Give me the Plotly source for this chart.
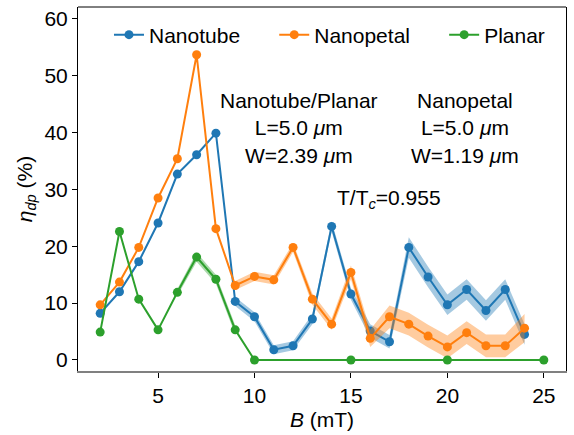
import plotly.graph_objects as go

# ---- data ----
x_tube = list(range(2, 25))
y_tube = [8.2, 12.0, 17.3, 24.1, 32.7, 36.1, 39.9, 10.3, 7.6, 1.8, 2.5, 7.2,
          23.5, 11.6, 5.1, 3.2, 19.8, 14.6, 9.7, 12.4, 8.7, 12.4, 4.5]
x_petal = list(range(2, 25))
y_petal = [9.7, 13.7, 19.8, 28.5, 35.4, 53.7, 23.1, 13.1, 14.7, 14.1, 19.8, 10.7,
           6.3, 15.4, 3.8, 7.6, 6.3, 4.2, 2.3, 4.8, 2.5, 2.5, 5.6]
x_planar = [2, 3, 4, 5, 6, 7, 8, 9, 10, 15, 20, 25]
y_planar = [4.9, 22.6, 10.7, 5.3, 11.9, 18.1, 14.2, 5.3, 0, 0, 0, 0]

# uncertainty bands (half widths)
band_x_tube = list(range(9, 25))
band_e_tube = [0.8, 0.8, 0.8, 0.8, 0.9, 0.9, 1.0, 1.2, 1.2, 1.8, 1.8, 1.8, 1.8, 1.8, 1.8, 1.8]
band_x_petal = list(range(9, 25))
band_e_petal = [0.8, 0.8, 0.8, 0.8, 1.0, 1.0, 1.2, 1.5, 2.0, 2.0, 2.0, 2.0, 2.0, 2.0, 2.0, 2.5]
band_x_planar = [6, 7, 8, 9]
band_e_planar = [0.6, 0.8, 0.8, 0.8]

names = ["Nanotube", "Nanopetal", "Planar"]
legend_pad = [5, 5, 0]  # trailing non-breaking spaces for legend spacing
colors = ["#1f77b4", "#ff7f0e", "#2ca02c"]
bands = ["rgba(31,119,180,0.4)", "rgba(255,127,14,0.4)", "rgba(44,160,44,0.4)"]

FONT = "Liberation Sans, Arial, Helvetica, sans-serif"
FS = 21

fig = go.Figure()

series = [
    (x_tube, y_tube, band_x_tube, band_e_tube),
    (x_petal, y_petal, band_x_petal, band_e_petal),
    (x_planar, y_planar, band_x_planar, band_e_planar),
]

for i, (xs, ys, bx, be) in enumerate(series):
    lookup = dict(zip(xs, ys))
    upper = [lookup[v] + e for v, e in zip(bx, be)]
    lower = [lookup[v] - e for v, e in zip(bx, be)]
    fig.add_trace(go.Scatter(x=bx + bx[::-1], y=upper + lower[::-1], mode="lines",
                             line=dict(width=0), fill="toself", fillcolor=bands[i],
                             hoverinfo="skip", showlegend=False))
    fig.add_trace(go.Scatter(x=xs, y=ys, mode="lines+markers",
                             name=names[i] + "\u00a0" * legend_pad[i],
                             line=dict(color=colors[i], width=2),
                             marker=dict(color=colors[i], size=9)))

fig.add_annotation(text="Nanotube/Planar<br>L=5.0 <i>μ</i>m<br>W=2.39 <i>μ</i>m",
                   xref="paper", yref="paper", x=0.453, y=0.668,
                   xanchor="center", yanchor="middle", showarrow=False,
                   font=dict(size=FS, color="black", family=FONT))
fig.add_annotation(text="Nanopetal<br>L=5.0 <i>μ</i>m<br>W=1.19 <i>μ</i>m",
                   xref="paper", yref="paper", x=0.794, y=0.668,
                   xanchor="center", yanchor="middle", showarrow=False,
                   font=dict(size=FS, color="black", family=FONT))
fig.add_annotation(text="T/T<sub><i>c</i></sub>=0.955",
                   xref="paper", yref="paper", x=0.637, y=0.4725,
                   xanchor="center", yanchor="middle", showarrow=False,
                   font=dict(size=FS, color="black", family=FONT))

# top spine
fig.add_shape(type="line", xref="paper", yref="paper", x0=0, x1=1, y0=1, y1=1,
              line=dict(color="black", width=1))

fig.update_layout(
    width=574, height=435,
    margin=dict(l=78, r=8, t=7, b=64),
    paper_bgcolor="white", plot_bgcolor="white",
    font=dict(family=FONT, size=FS, color="black"),
    showlegend=True,
    legend=dict(orientation="h", x=0.0635, y=0.923, xanchor="left", yanchor="middle",
                bgcolor="rgba(0,0,0,0)", font=dict(size=FS, family=FONT),
                itemwidth=30, tracegroupgap=0),
    xaxis=dict(range=[0.85, 26.15], tickvals=[5, 10, 15, 20, 25],
               ticks="outside", ticklen=5, tickcolor="black",
               showline=True, linecolor="#808080", linewidth=2, mirror=False,
               showgrid=False, zeroline=False,
               title=dict(text="<i>B</i> (mT)", standoff=6, font=dict(size=FS)),
               tickfont=dict(size=FS)),
    yaxis=dict(range=[-1.94, 62.1], tickvals=[0, 10, 20, 30, 40, 50, 60],
               ticks="outside", ticklen=5, tickcolor="black",
               showline=True, linecolor="black", linewidth=1, mirror=True,
               showgrid=False, zeroline=False,
               title=dict(text="<i>η</i><sub><i>dp</i></sub> (%)", standoff=6, font=dict(size=FS)),
               tickfont=dict(size=FS)),
)

fig.write_html("out.html")
